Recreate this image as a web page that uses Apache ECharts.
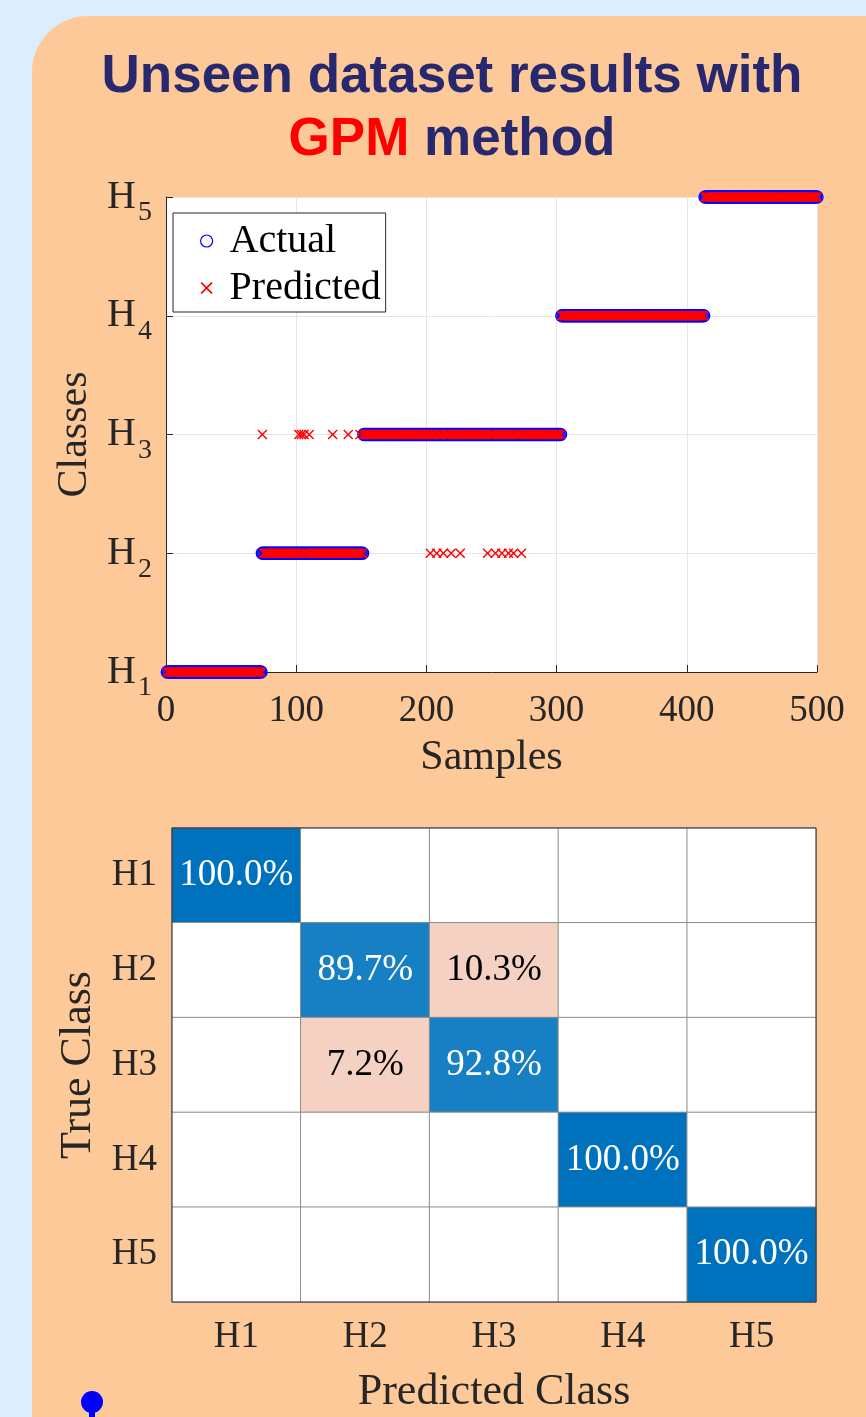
<!DOCTYPE html>
<html>
<head>
<meta charset="utf-8">
<script src="https://cdn.jsdelivr.net/npm/echarts@6/dist/echarts.min.js"></script>
<style>
  html, body { margin: 0; padding: 0; background: #dcedfd; }
  #chart { position: absolute; left: 0; top: 0; width: 866px; height: 1417px; }
</style>
</head>
<body>
<div id="chart"></div>
<script>
// ---- data ----
const classNames = ['H1', 'H2', 'H3', 'H4', 'H5'];
// sample index ranges (inclusive) of each true class, in order H1..H5
const classRanges = [[1, 73], [74, 151], [152, 303], [304, 413], [414, 500]];
// H2 samples that the model labelled H3
const h2PredictedAsH3 = [74, 102, 104, 106, 110, 128, 140, 149];
// H3 samples that the model labelled H2
const h3PredictedAsH2 = [203, 208, 213, 219, 226, 247, 253, 258, 263, 267, 273];
// confusion matrix rows (true class) in percent, columns = predicted class
const confusionRows = [
  [100.0, 0, 0, 0, 0],
  [0, 89.7, 10.3, 0, 0],
  [0, 7.2, 92.8, 0, 0],
  [0, 0, 0, 100.0, 0],
  [0, 0, 0, 0, 100.0]
];
const sampleTickStep = 100;
const sampleMax = 500;

// ---- series built from the data above ----
const actualPoints = [];
const predictedPoints = [];
classRanges.forEach(function (r, ci) {
  for (let s = r[0]; s <= r[1]; s++) {
    const level = ci + 1;
    actualPoints.push([s, level]);
    let pred = level;
    if (h2PredictedAsH3.indexOf(s) >= 0) pred = 3;
    if (h3PredictedAsH2.indexOf(s) >= 0) pred = 2;
    predictedPoints.push([s, pred]);
  }
});

function mix(c, t) {
  return 'rgb(' + c.map(function (v) { return Math.round(255 * (1 - t) + v * t); }).join(',') + ')';
}
// diagonal cells shade toward blue by their share, off-diagonal cells get a pale salmon
const heatData = [];
confusionRows.forEach(function (row, ri) {
  row.forEach(function (v, ci) {
    let color = '#ffffff', txt = '#000000';
    if (v > 0) {
      if (ri === ci) { color = mix([0, 114, 189], v >= 99.9 ? 1 : 0.91); txt = '#ffffff'; }
      else { color = '#f4d1c3'; }
    }
    heatData.push({ value: [ci, ri, v], itemStyle: { color: color }, label: { color: txt } });
  });
});

const crossPath = 'path://M0,1L1,0L5,4L9,0L10,1L6,5L10,9L9,10L5,6L1,10L0,9L4,5Z';
const serif = 'Liberation Serif';
const sans = '"Liberation Sans", Arial, sans-serif';
const ink = '#262626';

const chart = echarts.init(document.getElementById('chart'), null, { renderer: 'canvas' });
chart.setOption({
  animation: false,
  backgroundColor: 'transparent',
  graphic: [
    { type: 'rect', z: -10, shape: { x: 32, y: 16, width: 900, height: 1500, r: [56, 0, 0, 0] },
      style: { fill: '#fec998' } },
    { type: 'text', z: 5, x: 452, y: 77,
      style: { text: 'Unseen dataset results with', font: 'bold 53px ' + sans,
        fill: '#28286e', align: 'center', verticalAlign: 'middle' } },
    { type: 'text', z: 5, x: 452, y: 140,
      style: {
        text: '{r|GPM}{a| method}', align: 'center', verticalAlign: 'middle',
        rich: {
          r: { font: 'bold 53px ' + sans, fill: '#ff0000' },
          a: { font: 'bold 53px ' + sans, fill: '#28286e' }
        }
      } },
    { type: 'group', z: 5, children: [
      { type: 'circle', shape: { cx: 92, cy: 1402, r: 11 }, style: { fill: '#0000ff' } },
      { type: 'rect', shape: { x: 89, y: 1408, width: 6, height: 12 }, style: { fill: '#0000ff' } }
    ] }
  ],
  legend: {
    orient: 'vertical',
    left: 173, top: 213,
    backgroundColor: '#ffffff',
    borderColor: '#262626', borderWidth: 1, borderRadius: 0,
    padding: [8, 5, 4, 27],
    itemGap: 7,
    itemWidth: 12, itemHeight: 12,
    textStyle: { fontFamily: serif, fontSize: 40, color: '#000', lineHeight: 40, padding: [0, 0, 0, 12] },
    data: [
      { name: 'Actual', icon: 'circle', itemStyle: { color: 'transparent', borderColor: '#0000ff', borderWidth: 1.2 } },
      { name: 'Predicted', icon: crossPath, itemStyle: { color: '#ff0000', borderWidth: 0 } }
    ]
  },
  grid: [
    { left: 166, top: 197, width: 651, height: 475, show: true, backgroundColor: '#ffffff', borderWidth: 0 },
    { left: 172, top: 828, width: 644, height: 474, show: true, backgroundColor: 'transparent',
      borderColor: '#333333', borderWidth: 1, z: 5 }
  ],
  xAxis: [
    {
      gridIndex: 0, type: 'value', min: 0, max: sampleMax, interval: sampleTickStep,
      name: 'Samples', nameLocation: 'middle', nameGap: 65,
      nameTextStyle: { fontFamily: serif, fontSize: 42, color: ink },
      axisLine: { show: true, onZero: false, lineStyle: { color: ink, width: 1 } },
      axisTick: { show: true, inside: true, length: 7, lineStyle: { color: ink } },
      axisLabel: { fontFamily: serif, fontSize: 37, color: ink, margin: 21 },
      splitLine: { show: true, lineStyle: { color: '#e6e6e6', width: 1 } }
    },
    {
      gridIndex: 1, type: 'category', data: classNames,
      name: 'Predicted Class', nameLocation: 'middle', nameGap: 68,
      nameTextStyle: { fontFamily: serif, fontSize: 44, color: ink },
      axisLine: { show: false }, axisTick: { show: false },
      axisLabel: { fontFamily: serif, fontSize: 37, color: ink, margin: 17 },
      splitLine: { show: false }, splitArea: { show: false }
    }
  ],
  yAxis: [
    {
      gridIndex: 0, type: 'value', min: 1, max: 5, interval: 1,
      name: 'Classes', nameLocation: 'middle', nameGap: 69,
      nameTextStyle: { fontFamily: serif, fontSize: 42, color: ink },
      axisLine: { show: true, onZero: false, lineStyle: { color: ink, width: 1 } },
      axisTick: { show: true, inside: true, length: 7, lineStyle: { color: ink } },
      axisLabel: {
        margin: 14,
        formatter: function (v) { return '{h|H}{s|' + v + '}'; },
        rich: {
          h: { fontFamily: serif, fontSize: 40, color: ink, lineHeight: 40, verticalAlign: 'top' },
          s: { fontFamily: serif, fontSize: 28, color: ink, lineHeight: 26, verticalAlign: 'top', padding: [22, 0, 0, 2] }
        }
      },
      splitLine: { show: true, lineStyle: { color: '#e6e6e6', width: 1 } }
    },
    {
      gridIndex: 1, type: 'category', data: classNames, inverse: true,
      name: 'True Class', nameLocation: 'middle', nameGap: 64,
      nameTextStyle: { fontFamily: serif, fontSize: 44, color: ink },
      axisLine: { show: false }, axisTick: { show: false },
      axisLabel: { fontFamily: serif, fontSize: 37, color: ink, margin: 15 },
      splitLine: { show: false }, splitArea: { show: false }
    }
  ],
  series: [
    {
      name: 'Actual', type: 'scatter', xAxisIndex: 0, yAxisIndex: 0,
      symbol: 'circle', symbolSize: 12,
      itemStyle: { color: 'transparent', borderColor: '#0000ff', borderWidth: 1.4, opacity: 1 },
      data: actualPoints, z: 3
    },
    {
      name: 'Predicted', type: 'scatter', xAxisIndex: 0, yAxisIndex: 0,
      symbol: crossPath, symbolSize: 10,
      itemStyle: { color: '#ff0000', opacity: 1 },
      data: predictedPoints, z: 4
    },
    {
      name: 'Confusion', type: 'heatmap', xAxisIndex: 1, yAxisIndex: 1,
      itemStyle: { borderColor: '#8c8c8c', borderWidth: 1 },
      label: {
        show: true, fontFamily: serif, fontSize: 37,
        formatter: function (p) { return p.value[2] > 0 ? p.value[2].toFixed(1) + '%' : ''; }
      },
      emphasis: { disabled: true },
      data: heatData
    }
  ]
});
</script>
</body>
</html>
